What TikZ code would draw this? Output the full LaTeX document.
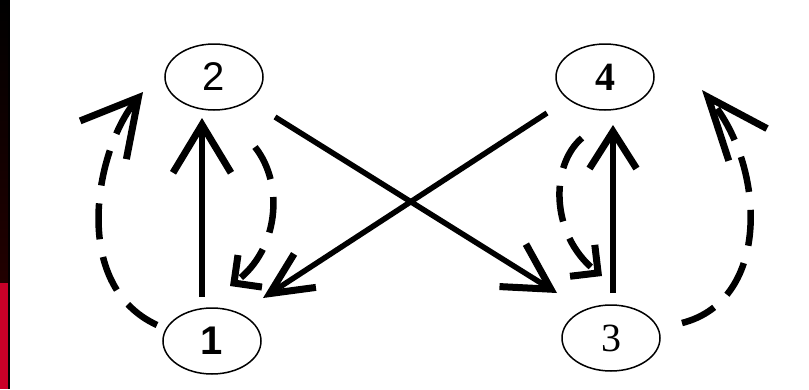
\documentclass[tikz,border=0pt]{standalone}
\usepackage{fontspec}
\setmainfont{Liberation Serif}
\setsansfont{Liberation Sans}
\usetikzlibrary{arrows.meta,shapes.geometric}
\definecolor{stripred}{RGB}{200,0,40}
\definecolor{stripdark}{RGB}{34,0,0}
\begin{document}
\begin{tikzpicture}[x=1pt,y=-1pt,
  state/.style={ellipse,draw,line width=1.5pt,minimum width=98pt,minimum height=66pt,inner sep=0pt,font=\fontsize{40}{40}\selectfont},
  solidedge/.style={line width=5.5pt},
  dashededge/.style={line width=6.5pt,dash pattern=on 36pt off 18pt},
  barb/.style 2 args={-{Straight Barb[length=#1,width=#2,line width=7pt]}}]
\useasboundingbox (0,0) rectangle (809,389);
\fill[white] (0,0) rectangle (809,389);
% left strip
\shade[top color=black,bottom color=stripdark] (0,0) rectangle (8,283);
\fill[stripred] (0,283) rectangle (8,389);
\fill[black] (8,0) rectangle (10,389);
% nodes
\node[state] (n2) at (214,77) {\sffamily 2};
\node[state] (n1) at (212,341) {\sffamily\bfseries 1};
\node[state] (n4) at (605,77) {\bfseries 4};
\node[state] (n3) at (611,338) {3};
% solid edges
\draw[solidedge,barb={48pt}{58pt}] ([shift={(-10,-44)}]n1.center) -- ([shift={(-12,41)}]n2.center);
\draw[solidedge,barb={45pt}{50pt}] ([shift={(61,40)}]n2.center) -- ([shift={(-54,-45)}]n3.center);
\draw[solidedge,barb={42pt}{40pt}] ([shift={(-58,36)}]n4.center) -- ([shift={(51,-43)}]n1.center);
\draw[solidedge,barb={37pt}{47pt}] ([shift={(2,-45)}]n3.center) -- ([shift={(8,48)}]n4.center);
% dashed edges
\draw[dashededge,barb={55pt}{60pt}] ([shift={(-55,-16)}]n1.center) .. controls +(-87,-40) and +(-48,58) .. ([shift={(-71,15)}]n2.center);
\draw[dashededge,barb={20pt}{40pt}] ([shift={(41,70)}]n2.center) .. controls +(30,38) and +(48,-36) .. ([shift={(18,-55)}]n1.center);
\draw[dashededge,barb={20pt}{40pt}] ([shift={(-23,61)}]n4.center) .. controls +(-32,27) and +(-52,-41) .. ([shift={(-9,-62)}]n3.center);
\draw[dashededge,barb={62pt}{50pt}] ([shift={(71,-15)}]n3.center) .. controls +(90,-23) and +(63,75) .. ([shift={(97,13)}]n4.center);
\end{tikzpicture}
\end{document}
